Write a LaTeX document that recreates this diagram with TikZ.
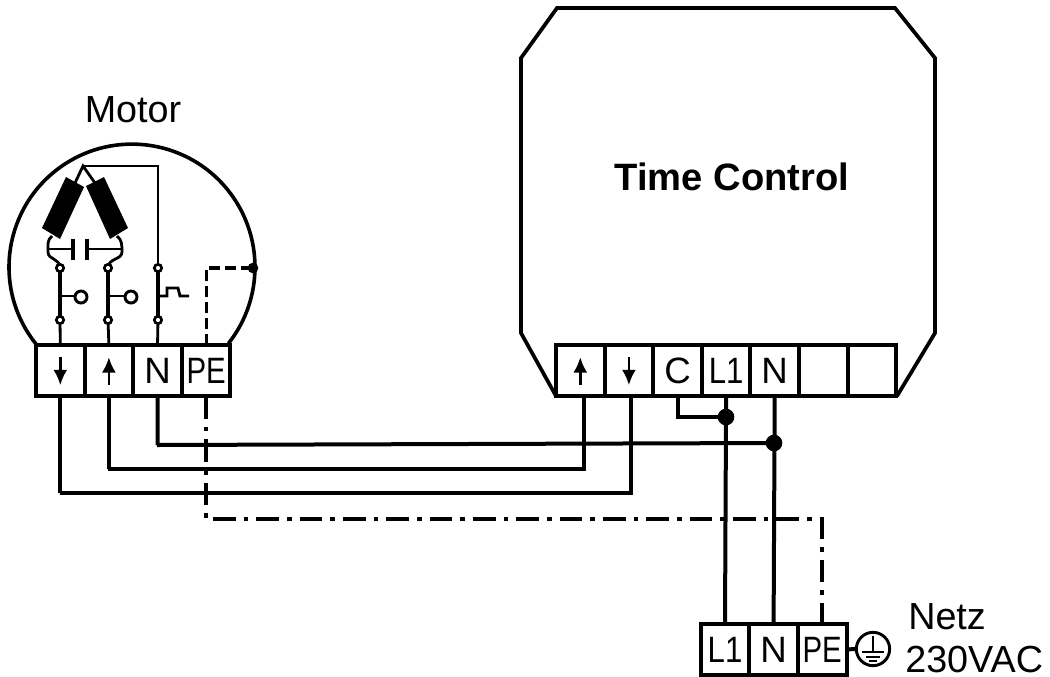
\documentclass[tikz,border=0pt]{standalone}
\usepackage{fontspec}
\setmainfont{Liberation Sans}
\usetikzlibrary{positioning,arrows.meta}
\newcommand*{\wide}[2]{\scalebox{#1}[1]{#2}}

\begin{document}
\begin{tikzpicture}[x=0.75pt,y=-0.75pt,
    block_cell/.style ={rectangle, draw=black, line width=3pt, fill=white,
      minimum width=36.45pt, minimum height=38.25pt, inner sep=0pt, outer sep=0pt,
      font=\fontsize{27.5}{27.5}\selectfont},
    block_label/.style ={rectangle, draw=none, inner sep=0pt,
      font=\fontsize{28.3}{28.3}\selectfont},
    block_title/.style ={block_label, font=\fontsize{28.6}{28.6}\selectfont\bfseries},
    block_earth/.style ={circle, draw=black, line width=2.2pt, fill=white,
      minimum size=25pt, inner sep=0pt},
    joint/.style ={circle, fill=black, minimum size=12.5pt, inner sep=0pt, outer sep=0pt},
    joint_small/.style ={circle, fill=black, minimum size=8pt, inner sep=0pt, outer sep=0pt},
    contact/.style ={circle, draw=black, line width=2pt, fill=white,
      minimum size=5.5pt, inner sep=0pt, outer sep=0pt},
    knob/.style ={circle, draw=black, line width=2.2pt, fill=white,
      minimum size=9pt, inner sep=0pt, outer sep=0pt},
    line/.style ={draw, line width=3pt},
    line_thin/.style ={draw, line width=2.1pt},
    line_pe/.style ={draw, line width=3pt, dash pattern=on 17pt off 6pt on 3.5pt off 6pt},
    line_dash/.style ={draw, line width=2.4pt, dash pattern=on 8pt off 4pt},
    line_pfeil/.style ={draw, line width=2pt, -{Latex[length=11.5pt,width=10.5pt]}}]
    \useasboundingbox (0,0) rectangle (1050,676);
    % outlines of the motor and of the control box
    \draw [line width=2.7pt] (36,344) arc [start angle=141.3, delta angle=257, radius=123];
    \draw [line width=2.8pt] (556,396) -- (521,333) -- (521,58) -- (557,8) -- (895,8)
      -- (935,58) -- (935,333) -- (897,396);
    % motor terminals
    \node [block_cell] (m_down) at (60.3,370.5) {};
    \node [block_cell, right=0pt of m_down] (m_up) {};
    \node [block_cell, right=0pt of m_up] (m_n) {N};
    \node [block_cell, right=0pt of m_n] (m_pe) {\wide{0.8}{PE}};
    % control box terminals
    \node [block_cell] (t_up) at (580.3,370.5) {};
    \node [block_cell, right=0pt of t_up] (t_down) {};
    \node [block_cell, right=0pt of t_down] (t_c) {C};
    \node [block_cell, right=0pt of t_c] (t_l1) {\wide{0.85}{L1}};
    \node [block_cell, right=0pt of t_l1] (t_n) {N};
    \node [block_cell, right=0pt of t_n] (t_free1) {};
    \node [block_cell, right=0pt of t_free1] (t_free2) {};
    % mains terminals
    \node [block_cell] (n_l1) at (725,649.5) {\wide{0.85}{L1}};
    \node [block_cell, right=0pt of n_l1] (n_n) {N};
    \node [block_cell, right=0pt of n_n] (n_pe) {\wide{0.8}{PE}};
    \node [block_earth] (earth) at (873,649) {};
    % labels
    \node [block_label] (motor) at (133,110) {Motor};
    \node [block_title] (time_control) at (732,177) {Time Control};
    \node [block_label, anchor=base west] (netz) at (908,629) {Netz};
    \node [block_label, anchor=base west] (netz_volt) at (905,672) {230VAC};
    % junctions
    \coordinate (bus_down) at (60,493);
    \coordinate (bus_up) at (108,469);
    \coordinate (bus_n) at (157,445);
    \coordinate (bus_pe) at (206,519);
    \node [joint] (j_l1) at (726,417) {};
    \node [joint] (j_n) at (774,443) {};
    \node [joint_small] (j_pe) at (253,268) {};
    % connecting nodes with paths
    \begin{scope}[every path/.style=line]
      \path (m_down.south) |- (bus_down) -| ([xshift=1.6pt]t_down.south);
      \path (m_up.south) |- (bus_up) -| ([xshift=2.4pt]t_up.south);
      \path (m_n.south) |- (bus_n) -- (j_n.center);
      \path (t_l1.south) -- (n_l1.north);
      \path (t_n.south) -- (n_n.north);
      \path (t_c.south) |- (j_l1.center);
    \end{scope}
    \path [line_pe] (m_pe.south) |- (bus_pe) -| (n_pe.north);
    \path [line_dash] (m_pe.north) |- (j_pe.center);
    \path [line] (n_pe.east) -- (earth.west);
    % arrows in the terminals
    \path [line_pfeil] ([yshift=10pt]m_down.center) -- ([yshift=-11pt]m_down.center);
    \path [line_pfeil] ([yshift=-11pt]m_up.center) -- ([yshift=10pt]m_up.center);
    \path [line_pfeil] ([yshift=-11pt]t_up.center) -- ([yshift=10pt]t_up.center);
    \path [line_pfeil] ([yshift=10pt]t_down.center) -- ([yshift=-11pt]t_down.center);
    % earth symbol
    \draw [line width=1.5pt] (873,636) -- (873,652);
    \draw [line width=1.5pt] (862,652) -- (884,652);
    \draw [line width=1.3pt] (866,657) -- (880,657);
    \draw [line width=1.1pt] (869,661) -- (877,661);
    % motor windings
    \fill (66,177) -- (84,187) -- (60,239) -- (42,228) -- cycle;
    \fill (86,186) -- (104,177) -- (128,228) -- (110,239) -- cycle;
    \coordinate (w_top) at (83,166);
    \draw [line_thin] (75,183) -- (w_top) -- (95,183);
    \draw [line_thin] (w_top) -- (158,166) -- (158,268);
    % capacitor
    \draw [line width=2.9pt] (73,239) -- (73,260);
    \draw [line width=2.9pt] (87,239) -- (87,260);
    \draw [line_thin] (73,249) -- (48,249);
    \draw [line_thin] (87,249) -- (122,249);
    \draw [line_thin] (52,236) .. controls (47,240) and (48,245) .. (48,252)
      .. controls (48,260) and (60,258) .. (60,268);
    \draw [line_thin] (117,236) .. controls (122,240) and (122,245) .. (122,252)
      .. controls (122,260) and (108,258) .. (108,268);
    % switches
    \draw [line width=2.7pt] (60,268) -- (60,320);
    \draw [line width=2.7pt] (108,268) -- (108,320);
    \draw [line width=2.7pt] (158,268) -- (158,320);
    \draw [line_thin] (60,296) -- (76,296);
    \draw [line_thin] (108,296) -- (125,296);
    \draw [line_thin] (158,296) -- (167,296) -- (167,288) -- (178,288) -- (180,296) -- (189,296);
    \node [knob] (knob_down) at (81,297) {};
    \node [knob] (knob_up) at (131,297) {};
    \draw [line_thin] (60,320) -- (m_down.north);
    \draw [line_thin] (108,320) -- (m_up.north);
    \draw [line_thin] (158,320) -- (m_n.north);
    \foreach \cx in {60,108,158} {
      \node [contact] (top_\cx) at (\cx,268) {};
      \node [contact] (bot_\cx) at (\cx,320) {};
    }
  \end{tikzpicture}
\end{document}
